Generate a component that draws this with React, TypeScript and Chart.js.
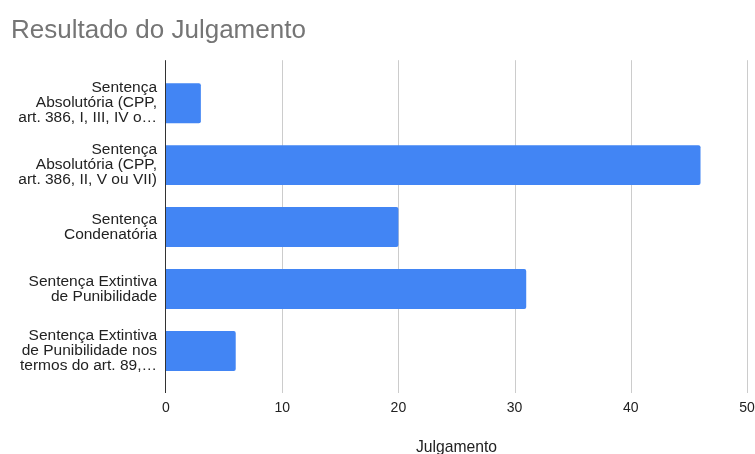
import React, { useEffect, useRef } from "react";
import { Chart, registerables } from "chart.js";

Chart.register(...registerables);

const chartTitle = "Resultado do Julgamento";
const axisTitle = "Julgamento";
const categories: string[][] = [
  ["Sentença", "Absolutória (CPP,", "art. 386, I, III, IV o…"],
  ["Sentença", "Absolutória (CPP,", "art. 386, II, V ou VII)"],
  ["Sentença", "Condenatória"],
  ["Sentença Extintiva", "de Punibilidade"],
  ["Sentença Extintiva", "de Punibilidade nos", "termos do art. 89,…"],
];
const values: number[] = [3, 46, 20, 31, 6];
const xTicks: number[] = [0, 10, 20, 30, 40, 50];

const FONT = "'Liberation Sans', Arial, sans-serif";

const gridPlugin = {
  id: "extGrid",
  beforeDatasetsDraw(chart: any) {
    const { ctx, chartArea, scales } = chart;
    const x = scales.x;
    ctx.save();
    ctx.strokeStyle = "#cccccc";
    ctx.lineWidth = 1;
    xTicks.forEach((t) => {
      if (t === 0) return;
      const px = Math.round(x.getPixelForValue(t)) + 0.5;
      ctx.beginPath();
      ctx.moveTo(px, chartArea.top - 12);
      ctx.lineTo(px, chartArea.bottom + 11);
      ctx.stroke();
    });
    ctx.restore();
  },
  afterDatasetsDraw(chart: any) {
    const { ctx, chartArea, scales } = chart;
    const px = Math.round(scales.x.getPixelForValue(0)) - 0.5;
    ctx.save();
    ctx.strokeStyle = "#333333";
    ctx.lineWidth = 1;
    ctx.beginPath();
    ctx.moveTo(px, chartArea.top - 12);
    ctx.lineTo(px, chartArea.bottom + 11);
    ctx.stroke();
    ctx.restore();
  },
};

export default function App() {
  const ref = useRef<HTMLCanvasElement | null>(null);
  useEffect(() => {
    document.body.style.margin = "0";
    if (!ref.current) return;
    const chart = new Chart(ref.current, {
      type: "bar",
      data: {
        labels: categories,
        datasets: [
          {
            data: values,
            backgroundColor: "#4285F4",
            borderRadius: 2,
            borderSkipped: "start",
            barPercentage: 0.645,
            categoryPercentage: 1,
          },
        ],
      },
      options: {
        indexAxis: "y",
        responsive: false,
        animation: false,
        layout: { padding: { left: 11, right: 75, top: 0, bottom: 0 } },
        plugins: {
          legend: { display: false },
          tooltip: { enabled: false },
          title: {
            display: true,
            text: chartTitle,
            align: "start",
            color: "#757575",
            font: { family: FONT, size: 26, weight: "normal", lineHeight: 1.2 },
            padding: { top: 15, bottom: 26 },
          },
        },
        scales: {
          x: {
            type: "linear",
            min: 0,
            max: 50,
            afterBuildTicks: (scale: any) => {
              scale.ticks = xTicks.map((v) => ({ value: v }));
            },
            afterFit: (scale: any) => {
              scale.height = 72;
            },
            grid: { display: false, drawTicks: false },
            border: { display: false },
            ticks: {
              color: "#222222",
              padding: 18,
              font: { family: FONT, size: 14 },
            },
            title: {
              display: true,
              text: axisTitle,
              color: "#222222",
              font: { family: FONT, size: 15.7, lineHeight: 1 },
              padding: { top: 0, bottom: -2 },
            },
          },
          y: {
            type: "category",
            afterFit: (scale: any) => {
              scale.width = 155;
            },
            grid: { display: false, drawTicks: false },
            border: { display: false },
            ticks: {
              color: "#222222",
              padding: 9,
              font: { family: FONT, size: 15.5, lineHeight: "15px" },
            },
          },
        },
      },
      plugins: [gridPlugin],
    });
    return () => chart.destroy();
  }, []);
  return (
    <div style={{ width: 755, height: 454, overflow: "hidden", background: "#fff" }}>
      <canvas ref={ref} width={822} height={454} style={{ display: "block" }} />
    </div>
  );
}
